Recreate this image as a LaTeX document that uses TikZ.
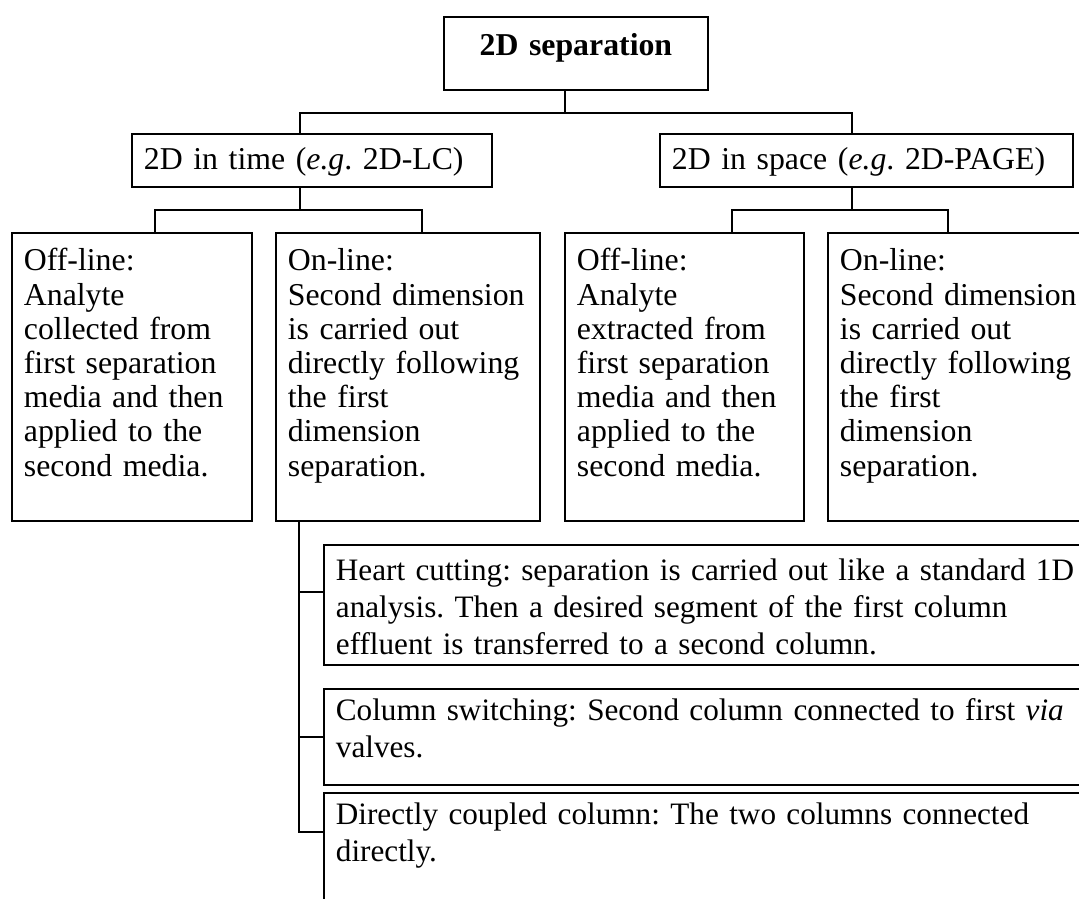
\documentclass[tikz,border=0pt]{standalone}
\usepackage{fontspec}
\setmainfont{Liberation Serif}
\frenchspacing

\tikzset{
  box/.style={draw, line width=1.8pt, anchor=north west, align=left,
    inner xsep=12pt, inner ysep=12pt, text height=24pt,
    font=\fontsize{31.8}{34.2}\selectfont},
  wide/.style={box, font=\fontsize{31.2}{37}\selectfont},
  link/.style={line width=1.5pt},
}

\begin{document}
\begin{tikzpicture}[x=1pt,y=-1pt]
  \useasboundingbox (0,0) rectangle (1079,898);
  \clip (0,0) rectangle (1079,898);

  % top
  \node[box, align=center, text width=240, text height=27, text depth=22] (root) at (443,16) {\textbf{2D separation}};

  \node[box, text width=336, text depth=5] (time) at (131,133) {2D in time (\textit{e.g}. 2D-LC)};
  \node[box, text width=389, text depth=5] (space) at (659,133) {2D in space (\textit{e.g}. 2D-PAGE)};

  % offline / online
  \node[box, text width=216, text height=26, text depth=238] (offtime) at (11,232)
    {Off-line:\\Analyte\\collected from\\first separation\\media and then\\applied to the\\second media.};
  \node[box, text width=240, text height=26, text depth=238] (ontime) at (275,232)
    {On-line:\\Second dimension\\is carried out\\directly following\\the first\\dimension\\separation.};
  \node[box, text width=215, text height=26, text depth=238] (offspace) at (564,232)
    {Off-line:\\Analyte\\extracted from\\first separation\\media and then\\applied to the\\second media.};
  \node[box, text width=256, text height=26, text depth=238] (onspace) at (827,232)
    {On-line:\\Second dimension\\is carried out\\directly following\\the first\\dimension\\separation.};

  % on-line kinds
  \node[wide, text width=776, text depth=72] (heart) at (323,544)
    {Heart cutting: separation is carried out like a standard 1D\\analysis. Then a desired segment of the first column\\effluent is transferred to a second column.};
  \node[wide, text width=776, text height=20, text depth=52] (column) at (323,688)
    {Column switching: Second column connected to first \textit{via}\\valves.};
  \node[wide, text width=776, text height=20, text depth=106] (direct) at (323,792)
    {Directly coupled column: The two columns connected\\directly.};

  % links
  \draw[link] ([xshift=-11]root.south) -- ++(0,22) coordinate (rootbar);
  \draw[link] ([xshift=-12]time.north) |- (rootbar) -| ([xshift=-14.5]space.north);

  \draw[link] ([xshift=-12]time.south) -- ++(0,22) coordinate (timebar);
  \draw[link] ([xshift=23]offtime.north) |- (timebar) -| ([xshift=14]ontime.north);

  \draw[link] ([xshift=-14.5]space.south) -- ++(0,22) coordinate (spacebar);
  \draw[link] ([xshift=47.5]offspace.north) |- (spacebar) -| ([xshift=121]onspace.north west);

  \draw[link] ([xshift=-109]ontime.south) |- ([yshift=13]heart.west);
  \draw[link] ([xshift=-109]ontime.south) |- (column.west);
  \draw[link] ([xshift=-109]ontime.south) |- ([yshift=-40]direct.north west);
\end{tikzpicture}
\end{document}
